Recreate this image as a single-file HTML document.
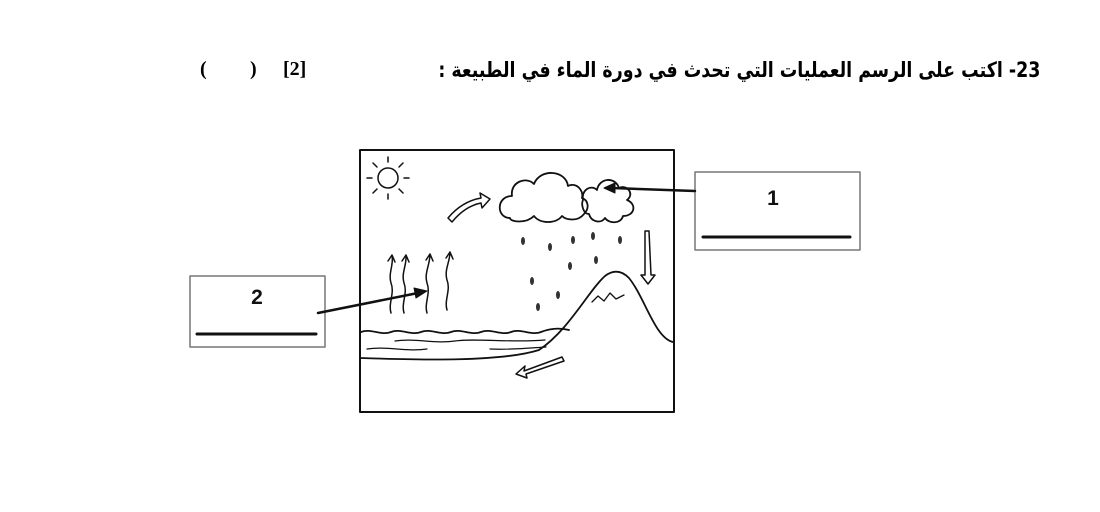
<!DOCTYPE html>
<html><head><meta charset="utf-8"><style>
body{margin:0;width:1100px;height:512px;background:#fff;position:relative;overflow:hidden;font-family:"Liberation Sans",sans-serif}
.t{position:absolute;top:58px;right:60px;font:bold 21px "DejaVu Sans","Noto Sans CJK SC",sans-serif;direction:rtl;white-space:nowrap;transform:scaleX(0.83);transform-origin:right top}
.m{position:absolute;top:58px;font:bold 20px "Liberation Serif",serif}
</style></head><body>
<div class="t">23- اكتب على الرسم العمليات التي تحدث في دورة الماء في الطبيعة :</div>
<div class="m" style="left:200px">(</div><div class="m" style="left:250px">)</div><div class="m" style="left:283px">[2]</div>
<svg width="1100" height="512" style="position:absolute;left:0;top:0" fill="none" stroke="#111" stroke-linecap="round" stroke-linejoin="round">
<rect x="360" y="150" width="314" height="262" stroke-width="2"/>
<circle cx="388" cy="178" r="10" stroke-width="1.5"/>
<g stroke-width="1.5"><path d="M388 162v-5M388 194v5M372 178h-5M404 178h5M377 167l-4-4M399 167l4-4M377 189l-4 4M399 189l4 4"/></g>
<path d="M448 218c10-12 22-18 33-20l-1-5 10 6-8 9-1-5c-10 2-20 8-29 19z" stroke-width="1.5"/>
<path d="M510 218c-14 0-14-22 2-22c-2-14 14-20 22-12c6-16 32-14 34 2c8-4 16 4 14 12c6 2 8 10 2 16c-6 8-18 6-22 2c-6 8-22 8-28 0c-8 8-24 6-24 2z" stroke-width="1.8"/>
<path d="M583 200c-2-10 8-16 14-10c2-12 18-14 22-2c8-4 16 6 8 12c10 4 8 16-4 16c-2 8-14 8-18 2c-4 6-14 4-16-4c-6 0-8-10-6-14z" stroke-width="1.8"/>
<g stroke-width="1.5">
<path d="M391 313c-3-10 4-20 0-30c-3-10 3-18 1-28M392 255l-4 6M392 255l3 7"/>
<path d="M404 313c-3-10 4-20 0-30c-3-10 3-18 2-28M406 255l-4 6M406 255l3 7"/>
<path d="M427 313c-3-10 4-20 0-30c-3-10 3-18 3-29M430 254l-4 6M430 254l3 7"/>
<path d="M447 310c-3-10 4-20 0-30c-3-10 3-18 3-28M450 252l-4 6M450 252l3 7"/>
</g>
<path d="M361 332c10-4 20 4 30 0s20 4 30 0s20 4 30 0s20 4 30 0s20 4 30 0s20 4 30 0s20-4 28-2" stroke-width="1.8"/>
<path d="M395 341c20-3 40 3 60 0s60 2 90-1M367 349c20-3 40 3 60 0M490 349c20 1 40-1 56-2" stroke-width="1.2"/>
<path d="M361 358c60 2 140 4 178-8c30-20 50-60 66-74c8-6 16-6 24 2c16 20 26 60 44 64" stroke-width="1.8"/>
<path d="M592 302l6-6 6 5 6-8 6 6 8-4" stroke-width="1.3"/>
<path d="M645 231l4 0 2 44 4 0-7 9-7-9 4 0z" stroke-width="1.5"/>
<path d="M562 357l-38 14 1-5-9 8 11 4-1-4 38-13z" stroke-width="1.5"/>
<g fill="#333" stroke="none">
<ellipse cx="523" cy="241" rx="2" ry="4"/><ellipse cx="550" cy="247" rx="2" ry="4"/><ellipse cx="573" cy="240" rx="2" ry="4"/><ellipse cx="593" cy="236" rx="2" ry="4"/><ellipse cx="620" cy="240" rx="2" ry="4"/>
<ellipse cx="596" cy="260" rx="2" ry="4"/><ellipse cx="570" cy="266" rx="2" ry="4"/><ellipse cx="532" cy="281" rx="2" ry="4"/><ellipse cx="558" cy="295" rx="2" ry="4"/><ellipse cx="538" cy="307" rx="2" ry="4"/>
</g>
<rect x="695" y="172" width="165" height="78" stroke="#777" stroke-width="1.5"/>
<path d="M703 237h147" stroke-width="3"/>
<rect x="190" y="276" width="135" height="71" stroke="#777" stroke-width="1.5"/>
<path d="M197 334h119" stroke-width="3"/>
<path d="M695 191L612 188" stroke-width="2.5"/><path d="M604 188l11-5v10z" fill="#111"/>
<path d="M318 313L418 293" stroke-width="2.5"/><path d="M427 291l-11 7-2-10z" fill="#111"/>
<text x="773" y="205" fill="#111" stroke="none" font-family="Liberation Sans" font-weight="bold" font-size="21" text-anchor="middle">1</text>
<text x="257" y="304" fill="#111" stroke="none" font-family="Liberation Sans" font-weight="bold" font-size="21" text-anchor="middle">2</text>
</svg>
</body></html>
